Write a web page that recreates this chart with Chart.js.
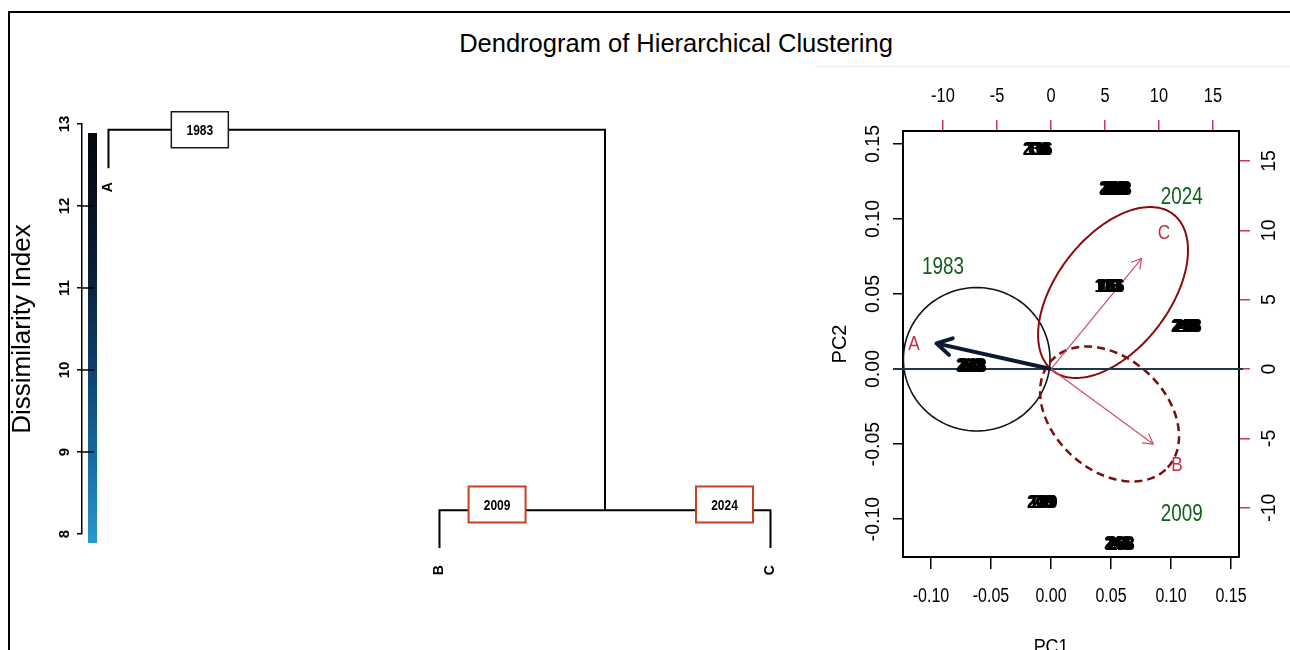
<!DOCTYPE html>
<html><head><meta charset="utf-8">
<script src="https://cdn.jsdelivr.net/npm/chart.js@4.4.1/dist/chart.umd.min.js"></script>
<style>
html,body{margin:0;padding:0;background:#fff;}
body{width:1290px;height:650px;overflow:hidden;position:relative;}
#frame{position:absolute;left:8px;top:11px;width:1300px;height:700px;border-left:2px solid #000;border-top:2px solid #000;}
#sep{position:absolute;left:815px;top:66px;width:475px;height:1px;background:#ececec;}
#title{position:absolute;left:376px;top:28px;width:600px;text-align:center;font:25.5px 'Liberation Sans',Arial,sans-serif;line-height:30px;color:#000;white-space:nowrap;}
canvas{position:absolute;left:0;top:0;}
</style></head>
<body>
<div id="frame"></div><div id="sep"></div>
<div id="title">Dendrogram of Hierarchical Clustering</div>
<canvas id="dendro" width="1290" height="650"></canvas>
<canvas id="pca" width="1290" height="680"></canvas>
<script>
const SANS = "'Liberation Sans', Arial, sans-serif";

// ---------- Dendrogram data ----------
const dendroTicks = [8, 9, 10, 11, 12, 13];
const leafNames = ['A', 'B', 'C'];
const leafOrder = [1, 2, 3];
const leafEndHeight = [12.46, 7.83, 7.83];
const leafLabelHeight = [12.23, 7.56, 7.56];
const mergeHeightBC = 8.29;
const mergeHeightRoot = 12.93;
const branchLabels = ['1983', '2009', '2024'];
const branchLabelX = [1.276, 2.174, 2.861];
const branchLabelY = [12.93, 8.36, 8.36];
const colorBarRange = [7.89, 12.89];

// ---------- PCA biplot data ----------
const pcTicks = [-0.10, -0.05, 0.00, 0.05, 0.10, 0.15];
const loadTicks = [-10, -5, 0, 5, 10, 15];
const sampleX = [-0.0112, 0.0533, 0.0483, 0.1125, -0.0667, -0.0075, 0.0567];
const sampleY = [0.1463, 0.1200, 0.0550, 0.0282, 0.0020, -0.0890, -0.1167];
const sampleIds = ['236|110|116', '244|278|218|248', '118|183|166', '243|208|288', '222|248|288', '209|189|200', '243|266|288'];
const groupNames = ['1983', '2024', '2009'];
const groupLabelX = [-0.090, 0.109, 0.109];
const groupLabelY = [0.0673, 0.1140, -0.0973];
const ellipseCenterX = [-0.0619, 0.0517, 0.0488];
const ellipseCenterY = [0.0065, 0.0510, -0.0300];
const ellipseAxis1X = [0.0611, 0.0501, 0.0485];
const ellipseAxis1Y = [0.0000, 0.0522, -0.0356];
const ellipseAxis2X = [0.0000, -0.0373, 0.0316];
const ellipseAxis2Y = [0.0478, 0.0229, 0.0275];
const loadingNames = ['A', 'B', 'C'];
const loadingX = [-10.6, 9.47, 8.40];
const loadingY = [1.85, -5.41, 7.98];
const loadingLabelX = [-12.69, 11.67, 10.46];
const loadingLabelY = [1.80, -6.92, 9.81];

function rotText(ctx, text, x, y, font, color) {
  ctx.save();
  ctx.translate(x, y);
  ctx.rotate(-Math.PI / 2);
  ctx.font = font; ctx.fillStyle = color;
  ctx.textAlign = 'center'; ctx.textBaseline = 'middle';
  ctx.fillText(text, 0, 0);
  ctx.restore();
}
function narrowText(ctx, text, x, y, font, color, sx) {
  ctx.save();
  ctx.translate(x, y);
  ctx.scale(sx, 1);
  ctx.font = font; ctx.fillStyle = color;
  ctx.textAlign = 'center'; ctx.textBaseline = 'middle';
  ctx.fillText(text, 0, 0);
  ctx.restore();
}

// ---------- Dendrogram chart ----------
const bcX = (leafOrder[1] + leafOrder[2]) / 2;
const segA = [
  {x: leafOrder[0], y: leafEndHeight[0]}, {x: leafOrder[0], y: mergeHeightRoot},
  {x: bcX, y: mergeHeightRoot}, {x: bcX, y: mergeHeightBC}
];
const segBC = [
  {x: leafOrder[1], y: leafEndHeight[1]}, {x: leafOrder[1], y: mergeHeightBC},
  {x: leafOrder[2], y: mergeHeightBC}, {x: leafOrder[2], y: leafEndHeight[2]}
];

const dendroPlugin = {
  id: 'dendroExtras',
  afterDraw(chart) {
    const ctx = chart.ctx, xs = chart.scales.x, ys = chart.scales.y, ca = chart.chartArea;
    const yTop = ys.getPixelForValue(colorBarRange[1]);
    const yBot = ys.getPixelForValue(colorBarRange[0]);
    const g = ctx.createLinearGradient(0, yTop, 0, yBot);
    g.addColorStop(0, '#04060c'); g.addColorStop(0.3, '#0a1a30');
    g.addColorStop(0.55, '#0e3c64'); g.addColorStop(0.8, '#176ca3'); g.addColorStop(1, '#2a98cd');
    ctx.fillStyle = g;
    ctx.fillRect(ca.left + 6, yTop, 9, yBot - yTop);
    ctx.strokeStyle = '#000'; ctx.lineWidth = 1.5;
    ys.ticks.forEach((t, i) => {
      if (i === 0 || i === ys.ticks.length - 1) return;
      const py = ys.getPixelForValue(t.value);
      ctx.beginPath(); ctx.moveTo(ca.left, py); ctx.lineTo(ca.left + 12, py); ctx.stroke();
    });
    ys.ticks.forEach(t => {
      rotText(ctx, String(t.value), ca.left - 17, ys.getPixelForValue(t.value), 'bold 15px ' + SANS, '#000');
    });
    leafNames.forEach((n, i) => {
      rotText(ctx, n, xs.getPixelForValue(leafOrder[i]), ys.getPixelForValue(leafLabelHeight[i]), 'bold 14px ' + SANS, '#000');
    });
    const boxColors = ['#1a1a1a', '#c8401e', '#c8401e'];
    branchLabels.forEach((lab, i) => {
      const cx = xs.getPixelForValue(branchLabelX[i]), cy = ys.getPixelForValue(branchLabelY[i]);
      ctx.fillStyle = '#fff';
      ctx.fillRect(cx - 28.5, cy - 18, 57, 36);
      ctx.strokeStyle = boxColors[i]; ctx.lineWidth = i === 0 ? 1.5 : 2;
      ctx.strokeRect(cx - 28.5, cy - 18, 57, 36);
      narrowText(ctx, lab, cx, cy + 1, 'bold 15px ' + SANS, '#000', 0.8);
    });
  }
};

new Chart(document.getElementById('dendro'), {
  type: 'scatter',
  data: { datasets: [
    {data: segA, showLine: true, borderColor: '#000', borderWidth: 2, pointRadius: 0, clip: false, borderJoinStyle: 'miter', tension: 0},
    {data: segBC, showLine: true, borderColor: '#000', borderWidth: 2, pointRadius: 0, clip: false, borderJoinStyle: 'miter', tension: 0}
  ]},
  options: {
    responsive: false, animation: false, devicePixelRatio: 1,
    layout: {padding: {left: 0, right: 453.3, top: 124, bottom: 116}},
    plugins: {legend: {display: false}, tooltip: {enabled: false}},
    scales: {
      x: {type: 'linear', min: 0.92, max: 3.2, display: false},
      y: {
        type: 'linear', min: 8, max: 13,
        afterBuildTicks: s => { s.ticks = dendroTicks.map(v => ({value: v})); },
        afterFit: s => { s.width = 82; },
        ticks: {display: false},
        grid: {drawOnChartArea: false, tickLength: 5, color: '#000', lineWidth: 1.5},
        border: {color: '#000', width: 1.5},
        title: {display: true, text: 'Dissimilarity Index', color: '#000', font: {family: SANS, size: 26}, padding: {top: 7, bottom: 0}}
      }
    }
  },
  plugins: [dendroPlugin]
});

// ---------- PCA chart ----------
const pcaPlugin = {
  id: 'pcaExtras',
  beforeDatasetsDraw(chart) {
    const ctx = chart.ctx, xs = chart.scales.x, ys = chart.scales.y, ca = chart.chartArea;
    const styles = [
      {color: '#111', width: 1.6, dash: []},
      {color: '#8a0b0b', width: 2, dash: []},
      {color: '#7a0d0d', width: 2.5, dash: [8, 5]}
    ];
    for (let k = 0; k < 3; k++) {
      ctx.save();
      ctx.strokeStyle = styles[k].color; ctx.lineWidth = styles[k].width; ctx.setLineDash(styles[k].dash);
      ctx.beginPath();
      for (let i = 0; i <= 160; i++) {
        const t = i / 160 * 2 * Math.PI;
        const vx = ellipseCenterX[k] + ellipseAxis1X[k] * Math.cos(t) + ellipseAxis2X[k] * Math.sin(t);
        const vy = ellipseCenterY[k] + ellipseAxis1Y[k] * Math.cos(t) + ellipseAxis2Y[k] * Math.sin(t);
        const px = xs.getPixelForValue(vx), py = ys.getPixelForValue(vy);
        if (i === 0) ctx.moveTo(px, py); else ctx.lineTo(px, py);
      }
      ctx.stroke();
      ctx.restore();
    }
    const y0 = ys.getPixelForValue(0);
    ctx.save();
    ctx.strokeStyle = '#1b3a48'; ctx.lineWidth = 2;
    ctx.beginPath(); ctx.moveTo(ca.left - 10, y0); ctx.lineTo(ca.right + 4, y0); ctx.stroke();
    ctx.restore();
  },
  afterDatasetsDraw(chart) {
    const ctx = chart.ctx, xs = chart.scales.x, ys = chart.scales.y, x2 = chart.scales.x2, y2 = chart.scales.y2, ca = chart.chartArea;
    loadingNames.forEach((n, i) => {
      const x0 = x2.getPixelForValue(0), yy0 = y2.getPixelForValue(0);
      const x1 = x2.getPixelForValue(loadingX[i]), yy1 = y2.getPixelForValue(loadingY[i]);
      const ang = Math.atan2(yy1 - yy0, x1 - x0);
      const thick = i === 0;
      const len = thick ? 17 : 11;
      ctx.save();
      ctx.strokeStyle = thick ? '#0b1a33' : '#c8506a';
      ctx.lineWidth = thick ? 4 : 1.2;
      ctx.lineCap = 'round'; ctx.lineJoin = 'round';
      ctx.beginPath();
      ctx.moveTo(x1 - len * Math.cos(ang - Math.PI / 6), yy1 - len * Math.sin(ang - Math.PI / 6));
      ctx.lineTo(x1, yy1);
      ctx.lineTo(x1 - len * Math.cos(ang + Math.PI / 6), yy1 - len * Math.sin(ang + Math.PI / 6));
      ctx.stroke();
      ctx.restore();
      narrowText(ctx, n, x2.getPixelForValue(loadingLabelX[i]), y2.getPixelForValue(loadingLabelY[i]), '21px ' + SANS, '#c0304a', 0.82);
    });
    groupNames.forEach((g, i) => {
      narrowText(ctx, g, xs.getPixelForValue(groupLabelX[i]), ys.getPixelForValue(groupLabelY[i]), '23px ' + SANS, '#0f5f1a', 0.82);
    });
    sampleIds.forEach((ids, i) => {
      const px = xs.getPixelForValue(sampleX[i]), py = ys.getPixelForValue(sampleY[i]);
      const arr = ids.split('|');
      arr.forEach((s, k) => {
        const dx = (k - (arr.length - 1) / 2) * 2.2;
        narrowText(ctx, s, px + dx, py, 'bold 19px ' + SANS, '#000', 0.8);
        narrowText(ctx, s, px + dx + 0.8, py + 0.5, 'bold 19px ' + SANS, '#000', 0.8);
      });
    });
    ys.ticks.forEach(t => rotText(ctx, t.value.toFixed(2), ca.left - 29, ys.getPixelForValue(t.value), '19.5px ' + SANS, '#000'));
    y2.ticks.forEach(t => rotText(ctx, String(t.value), ca.right + 31, y2.getPixelForValue(t.value), '19.5px ' + SANS, '#000'));
    narrowText(ctx, 'PC1', xs.getPixelForValue(0), ca.bottom + 90, '21px ' + SANS, '#000', 0.85);
    xs.ticks.forEach(t => narrowText(ctx, t.value.toFixed(2), xs.getPixelForValue(t.value), ca.bottom + 39, '20.5px ' + SANS, '#000', 0.78));
    x2.ticks.forEach(t => narrowText(ctx, String(t.value), x2.getPixelForValue(t.value), ca.top - 35, '20.5px ' + SANS, '#000', 0.8));
  }
};

const pcaDatasets = [
  {data: sampleX.map((v, i) => ({x: v, y: sampleY[i]})), pointRadius: 0, xAxisID: 'x', yAxisID: 'y'}
];
loadingNames.forEach((n, i) => {
  pcaDatasets.push({
    data: [{x: 0, y: 0}, {x: loadingX[i], y: loadingY[i]}],
    showLine: true, pointRadius: 0, xAxisID: 'x2', yAxisID: 'y2',
    borderColor: i === 0 ? '#0b1a33' : '#c8506a', borderWidth: i === 0 ? 4 : 1.2, clip: false
  });
});

new Chart(document.getElementById('pca'), {
  type: 'scatter',
  data: {datasets: pcaDatasets},
  options: {
    responsive: false, animation: false, devicePixelRatio: 1,
    layout: {padding: {left: 823, right: 0, top: 0, bottom: 0}},
    plugins: {legend: {display: false}, tooltip: {enabled: false}},
    scales: {
      x: {
        type: 'linear', position: 'bottom', min: -0.12333, max: 0.15667,
        afterBuildTicks: s => { s.ticks = pcTicks.map(v => ({value: v})); },
        afterFit: s => { s.height = 123; },
        ticks: {display: false},
        grid: {drawOnChartArea: false, tickLength: 12, color: '#000', lineWidth: 1.5},
        border: {color: '#000', width: 2}
      },
      x2: {
        type: 'linear', position: 'top', min: -13.70, max: 17.41,
        afterBuildTicks: s => { s.ticks = loadTicks.map(v => ({value: v})); },
        afterFit: s => { s.height = 131; },
        ticks: {display: false},
        grid: {drawOnChartArea: false, tickLength: 11, color: '#c8385a', lineWidth: 1.5},
        border: {color: '#000', width: 2}
      },
      y: {
        type: 'linear', position: 'left', min: -0.12533, max: 0.15867,
        afterBuildTicks: s => { s.ticks = pcTicks.map(v => ({value: v})); },
        afterFit: s => { s.width = 80; },
        ticks: {display: false},
        grid: {drawOnChartArea: false, tickLength: 10, color: '#000', lineWidth: 1.5},
        border: {color: '#000', width: 2},
        title: {display: true, text: 'PC2', color: '#000', font: {family: SANS, size: 20}, padding: {top: 5, bottom: 0}}
      },
      y2: {
        type: 'linear', position: 'right', min: -13.55, max: 17.16,
        afterBuildTicks: s => { s.ticks = loadTicks.map(v => ({value: v})); },
        afterFit: s => { s.width = 51; },
        ticks: {display: false},
        grid: {drawOnChartArea: false, tickLength: 11, color: '#c8385a', lineWidth: 1.5},
        border: {color: '#000', width: 2}
      }
    }
  },
  plugins: [pcaPlugin]
});
</script>
</body></html>
